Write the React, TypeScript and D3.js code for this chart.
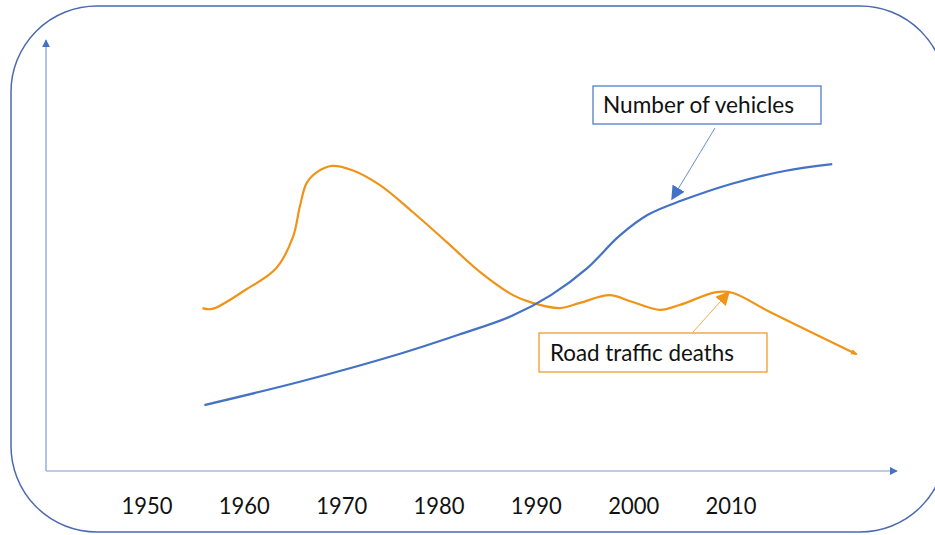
import React from 'react'
import * as d3 from 'd3'

// years shown under the x axis
const tickYears = [1950, 1960, 1970, 1980, 1990, 2000, 2010]

// number of vehicles (relative index)
const vehicleYears = [1955.9, 1965.7, 1976.0, 1982.0, 1987.5, 1991.5, 1995.2, 1998.5, 2001.5, 2005.0, 2010.0, 2015.5, 2020.4]
const vehicleValues = [15.3, 20.7, 27.2, 31.6, 36.0, 40.8, 47.0, 54.5, 59.5, 62.8, 66.6, 69.6, 71.2]

// road traffic deaths (relative index)
const deathYears = [1955.7, 1956.7, 1960.1, 1963.3, 1965.0, 1965.7, 1966.4, 1967.5, 1969.0, 1971.1, 1973.9, 1977.3, 1980.8, 1984.2, 1987.6, 1989.6, 1992.4, 1994.5, 1997.5, 1999.9, 2002.7, 2004.7, 2008.5, 2010.2, 2014.0, 2022.9]
const deathValues = [37.8, 37.6, 42.0, 47.1, 54.3, 61.3, 66.8, 69.4, 70.8, 69.8, 66.4, 60.1, 53.1, 46.2, 40.8, 39.0, 37.8, 39.0, 40.8, 39.2, 37.4, 38.5, 41.5, 41.3, 36.9, 27.1]

const BLUE = '#4472C4'
const ORANGE = '#EF9417'

export default function App() {
  const x = d3.scaleLinear().domain([1950, 2010]).range([147, 731])
  const y = d3.scaleLinear().domain([0, 100]).range([471, 40])

  const line = d3.line<[number, number]>()
    .x(d => x(d[0]))
    .y(d => y(d[1]))
    .curve(d3.curveCatmullRom.alpha(0.5))

  const vehicles = vehicleYears.map((yr, i) => [yr, vehicleValues[i]] as [number, number])
  const deaths = deathYears.map((yr, i) => [yr, deathValues[i]] as [number, number])

  const axisX0 = 46
  const axisY0 = y(0)
  const font = 'Lato, "Open Sans", sans-serif'

  return (
    <svg width={935} height={535} style={{ position: 'absolute', left: 0, top: 0, background: '#fff' }}>
      <defs>
        <marker id="arrBlue" viewBox="0 0 10 10" refX="9" refY="5" markerWidth="14" markerHeight="14" markerUnits="userSpaceOnUse" orient="auto">
          <path d="M0,0 L10,5 L0,10 z" fill={BLUE} />
        </marker>
        <marker id="arrOrange" viewBox="0 0 10 10" refX="9" refY="5" markerWidth="14" markerHeight="14" markerUnits="userSpaceOnUse" orient="auto">
          <path d="M0,0 L10,5 L0,10 z" fill={ORANGE} />
        </marker>
        <marker id="arrSmall" viewBox="0 0 10 10" refX="9" refY="5" markerWidth="8" markerHeight="8" markerUnits="userSpaceOnUse" orient="auto">
          <path d="M0,0 L10,5 L0,10 z" fill={BLUE} />
        </marker>
        <marker id="endOrange" viewBox="0 0 10 10" refX="8" refY="5" markerWidth="7" markerHeight="7" markerUnits="userSpaceOnUse" orient="auto">
          <path d="M0,1 L10,5 L0,9 z" fill={ORANGE} />
        </marker>
      </defs>

      {/* rounded frame */}
      <rect x={11} y={6} width={935} height={526} rx={86} ry={86} fill="none" stroke="#4A6AAE" strokeWidth={1.5} />

      {/* axes */}
      <line x1={axisX0} y1={axisY0} x2={axisX0} y2={40} stroke="#7A9AD8" strokeWidth={1.2} markerEnd="url(#arrSmall)" />
      <line x1={axisX0} y1={axisY0} x2={897} y2={axisY0} stroke="#7A9AD8" strokeWidth={1.2} markerEnd="url(#arrSmall)" />

      {tickYears.map(t => (
        <text key={t} x={x(t)} y={514} textAnchor="middle" fontFamily={font} fontSize={23.5} textLength={51} lengthAdjust="spacingAndGlyphs" fill="#111">{t}</text>
      ))}

      {/* series */}
      <path d={line(deaths) ?? ''} fill="none" stroke={ORANGE} strokeWidth={2.2} markerEnd="url(#endOrange)" />
      <path d={line(vehicles) ?? ''} fill="none" stroke={BLUE} strokeWidth={2.2} />

      {/* callouts */}
      <rect x={593} y={86} width={228} height={38} fill="#fff" stroke={BLUE} strokeWidth={1.2} />
      <text x={603} y={113} fontFamily={font} fontSize={22.5} textLength={191} lengthAdjust="spacingAndGlyphs" fill="#111">Number of vehicles</text>
      <line x1={715} y1={128} x2={672} y2={199} stroke={BLUE} strokeWidth={0.8} markerEnd="url(#arrBlue)" />

      <rect x={539} y={333} width={228} height={39} fill="#fff" stroke={ORANGE} strokeWidth={1.2} />
      <text x={550} y={361} fontFamily={font} fontSize={22.5} textLength={184} lengthAdjust="spacingAndGlyphs" fill="#111">Road traffic deaths</text>
      <line x1={693} y1={332} x2={729} y2={292} stroke={ORANGE} strokeWidth={0.8} markerEnd="url(#arrOrange)" />
    </svg>
  )
}
